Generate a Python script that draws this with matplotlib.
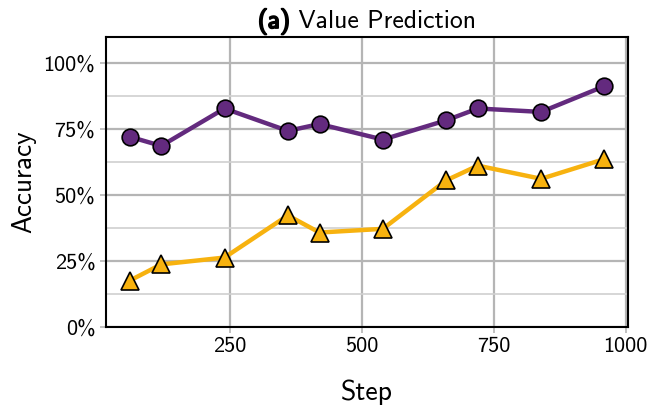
import matplotlib
matplotlib.use("Agg")
import matplotlib.pyplot as plt
import matplotlib.patheffects as pe
from matplotlib.ticker import MultipleLocator, FuncFormatter

plt.rcParams['font.family'] = ['cmss10', 'DejaVu Sans']
plt.rcParams['axes.unicode_minus'] = False

# data
steps = [60, 120, 240, 360, 420, 540, 660, 720, 840, 960]
acc_circle = [0.722, 0.687, 0.829, 0.744, 0.770, 0.711, 0.784, 0.829, 0.816, 0.914]
acc_triangle = [0.175, 0.237, 0.263, 0.423, 0.358, 0.372, 0.556, 0.612, 0.562, 0.637]
xticks = [250, 500, 750, 1000]
yticks = [0, 0.25, 0.5, 0.75, 1.0]

purple = "#632a7e"
yellow = "#f7b20f"

fig = plt.figure(figsize=(6.49, 4.08), dpi=100)
ax = fig.add_axes([0.163, 0.199, 0.805, 0.710])

ax.plot(steps, acc_circle, color=purple, lw=3.2, marker="o", ms=12,
        mfc=purple, mec="black", mew=1.2, zorder=3)
ax.plot(steps, acc_triangle, color=yellow, lw=3.2, marker="^", ms=12.5,
        mfc=yellow, mec="black", mew=1.2, zorder=3)

ax.set_ylim(0, 1.1)
ax.set_xlim(15, 1005)
ax.set_xticks(xticks)
ax.set_yticks(yticks)
ax.yaxis.set_minor_locator(MultipleLocator(0.125))
ax.yaxis.set_major_formatter(FuncFormatter(lambda v, p: "%d%%" % round(v * 100)))

ax.grid(which="major", color="#b5b5b5", lw=1.6, zorder=0)
ax.grid(which="minor", axis="y", color="#d0d0d0", lw=1.2, zorder=0)
ax.set_axisbelow(True)
ax.tick_params(which="major", labelsize=16, color="#b5b5b5", length=4, width=1.2)
ax.tick_params(which="minor", length=0)
for s in ax.spines.values():
    s.set_linewidth(1.5)
    s.set_color("black")

ax.set_xlabel("Step", fontsize=20, labelpad=17)
ax.set_ylabel("Accuracy", fontsize=19.5, labelpad=5)

# title: bold "(a)" + regular text, centred over the axes
t1 = fig.text(0.0, 1 - 28 / 408, "(a)", fontsize=18.5, ha="left", va="baseline",
              path_effects=[pe.withStroke(linewidth=1.3, foreground="black")])
t2 = fig.text(0.0, 1 - 28 / 408, " Value Prediction", fontsize=18.5,
              ha="left", va="baseline")
fig.canvas.draw()
r = fig.canvas.get_renderer()
w1 = t1.get_window_extent(r).width / fig.bbox.width
w2 = t2.get_window_extent(r).width / fig.bbox.width
pos = ax.get_position()
x0 = (pos.x0 + pos.x1) / 2 - (w1 + w2) / 2
t1.set_x(x0)
t2.set_x(x0 + w1)

fig.savefig("out.png", dpi=100)
